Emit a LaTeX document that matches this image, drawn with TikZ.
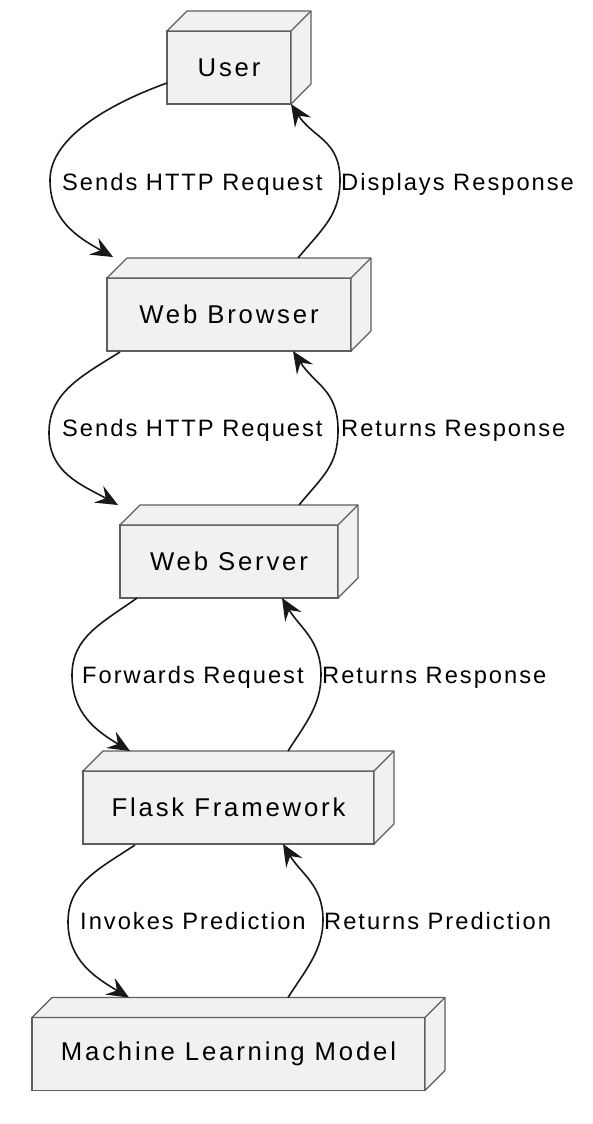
\documentclass[tikz,border=0pt]{standalone}
\usepackage{fontspec}
\setmainfont{Liberation Sans}
\newfontfamily\nodefont[LetterSpace=11]{Liberation Sans}
\newfontfamily\labelfont[LetterSpace=8.4]{Liberation Sans}
\usetikzlibrary{arrows.meta}
\definecolor{boxfill}{HTML}{F1F1F1}
\definecolor{boxline}{HTML}{5E5E5E}
\definecolor{edgecol}{HTML}{181818}
\tikzset{
 box/.style={draw=boxline, fill=boxfill, line width=1.1pt, inner sep=0pt, outer sep=0pt, minimum height=73pt, font=\nodefont\fontsize{25.7}{30}\selectfont},
 face/.style={draw=boxline, fill=boxfill, line width=1.1pt, line join=round},
 flow/.style={draw=edgecol, line width=1.6pt, -{Stealth[length=22pt,width=19pt,inset=8pt]}},
 lbl/.style={anchor=base west, inner sep=0pt, font=\labelfont\fontsize{23.7}{28}\selectfont},
}
\newcommand{\extrude}[1]{%
 \draw[face] (#1.north west) -- ++(20,-20) -- ([shift={(20,-20)}]#1.north east) -- ([shift={(20,-20)}]#1.south east) -- (#1.south east) -- (#1.north east) -- cycle;
 \draw[face] (#1.north east) -- ++(20,-20);}
\begin{document}
\begin{tikzpicture}[x=1pt,y=-1pt]
\useasboundingbox[fill=white] (0,0) rectangle (592,1124);
\node[box, minimum width=124pt] (u) at (229,67.5) {User};
\node[box, minimum width=244pt] (b) at (229,314.5) {Web Browser};
\node[box, minimum width=218pt] (s) at (229,561.5) {Web Server};
\node[box, minimum width=291pt] (f) at (228.5,807.5) {Flask Framework};
\node[box, minimum width=393pt] (m) at (228.5,1054) {Machine Learning Model};
\extrude{u}\extrude{b}\extrude{s}\extrude{f}\extrude{m}
% pair 1
\draw[flow] ([shift={(0,15.5)}]u.west) .. controls +(-50,18) and +(0,-45) .. (50,180) .. controls +(0,40) and +(-36,-20) .. ([shift={(-116,-21)}]b.north);
\draw[flow] ([shift={(69,-20)}]b.north) .. controls +(25,-30) and +(0,35) .. (340,180) .. controls +(0,-40) and +(22,34) .. (u.south east);
% pair 2
\draw[flow] ([shift={(13,1)}]b.south west) .. controls +(-40,25) and +(0,-40) .. (49,433) .. controls +(0,40) and +(-36,-20) .. ([shift={(-111,-20)}]s.north);
\draw[flow] ([shift={(70,-20)}]s.north) .. controls +(25,-30) and +(0,35) .. (338,430) .. controls +(0,-40) and +(22,34) .. ([shift={(64,0)}]b.south);
% pair 3
\draw[flow] ([shift={(17,0)}]s.south west) .. controls +(-35,25) and +(0,-38) .. (72,675) .. controls +(0,38) and +(-34,-20) .. ([shift={(-98.5,-20)}]f.north);
\draw[flow] ([shift={(59.5,-20)}]f.north) .. controls +(18,-28) and +(0,30) .. (321,675) .. controls +(0,-35) and +(18,30) .. ([shift={(53,0)}]s.south);
% pair 4
\draw[flow] ([shift={(52,1)}]f.south west) .. controls +(-38,25) and +(0,-38) .. (68,922) .. controls +(0,38) and +(-34,-20) .. ([shift={(-99.5,-20)}]m.north);
\draw[flow] ([shift={(59.5,-20)}]m.north) .. controls +(18,-28) and +(0,30) .. (323,920) .. controls +(0,-35) and +(18,30) .. ([shift={(54.5,0)}]f.south);
% labels
\node[lbl] (l1) at (62,190) {Sends HTTP Request};
\node[lbl] (r1) at (341,190) {Displays Response};
\node[lbl] (l2) at (62,436) {Sends HTTP Request};
\node[lbl] (r2) at (341,436) {Returns Response};
\node[lbl] (l3) at (82,683) {Forwards Request};
\node[lbl] (r3) at (322,683) {Returns Response};
\node[lbl] (l4) at (80,929) {Invokes Prediction};
\node[lbl] (r4) at (324,929) {Returns Prediction};
\end{tikzpicture}
\end{document}
